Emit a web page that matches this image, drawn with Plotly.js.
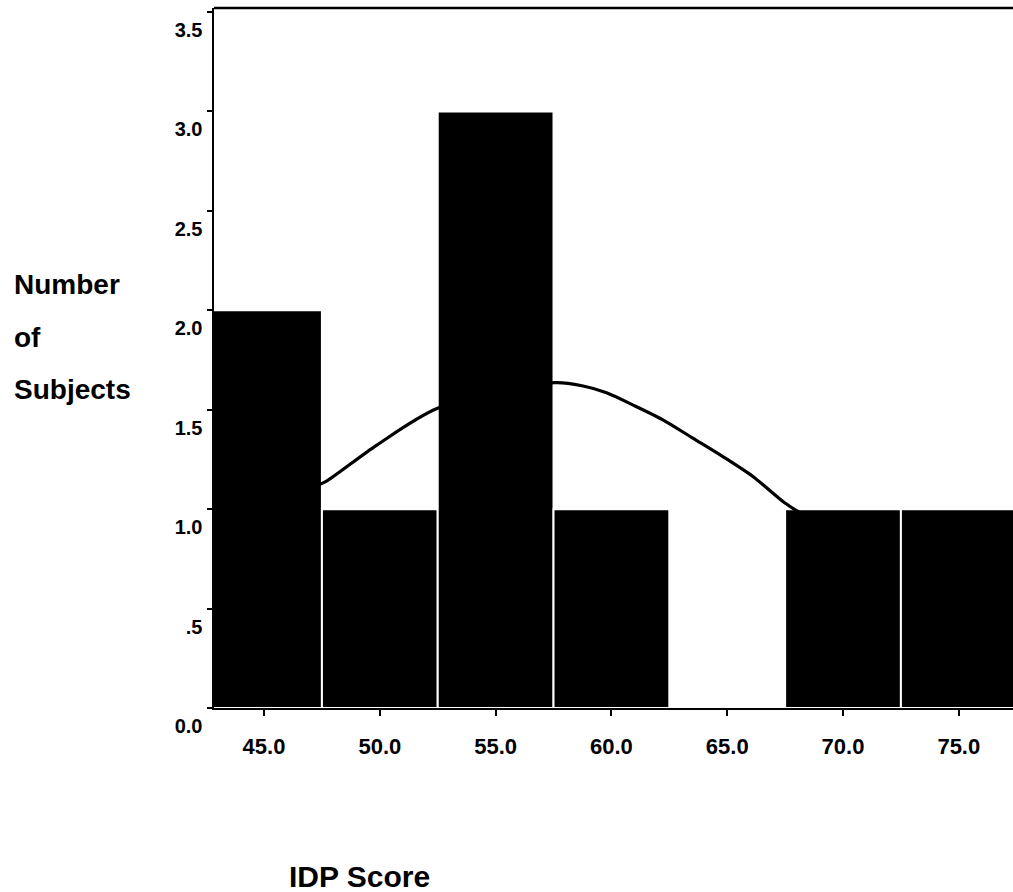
<!DOCTYPE html>
<html>
<head>
<meta charset="utf-8">
<script src="https://cdn.plot.ly/plotly-3.0.1.min.js"></script>
<style>html,body{margin:0;padding:0;background:#fff;}#chart{width:1013px;height:892px;}</style>
</head>
<body>
<div id="chart"></div>
<script>
// Histogram bins (IDP Score midpoints) and counts
var binCenters = [45, 50, 55, 60, 65, 70, 75];
var counts = [2, 1, 3, 1, 0, 1, 1];

// Fitted normal curve
var curveX = [47.3, 47.66, 49.87, 52.5, 57.56, 58.78, 59.79, 60.94, 62.24, 63.53, 64.83, 66.12, 67.42, 67.85, 69.0];
var curveY = [1.12, 1.138, 1.322, 1.507, 1.636, 1.619, 1.585, 1.523, 1.448, 1.356, 1.263, 1.163, 1.037, 1.003, 0.92];

// Axis ticks
var xTickVals = [45, 50, 55, 60, 65, 70, 75];
var xTickText = ["45.0", "50.0", "55.0", "60.0", "65.0", "70.0", "75.0"];
var yTickVals = [0, 0.5, 1, 1.5, 2, 2.5, 3, 3.5];
var yTickText = ["0.0", ".5", "1.0", "1.5", "2.0", "2.5", "3.0", "3.5"];

var tickFamily = "Liberation Sans Narrow, Liberation Sans, Arial, sans-serif";
var titleFont = {family: "Liberation Sans, Arial, sans-serif", size: 28, color: "#000", weight: "bold"};

var data = [
  {
    type: "scatter", mode: "lines",
    x: curveX, y: curveY,
    line: {color: "#000", width: 3.2, shape: "spline", smoothing: 0.8},
    hoverinfo: "skip", showlegend: false
  },
  {
    type: "bar",
    x: binCenters, y: counts,
    width: 5,
    marker: {color: "#000", line: {color: "#fff", width: 2}},
    showlegend: false
  }
];

var layout = {
  width: 1013, height: 892,
  margin: {l: 214, r: 0, t: 8, b: 184},
  paper_bgcolor: "#fff", plot_bgcolor: "#fff",
  bargap: 0,
  showlegend: false,
  xaxis: {
    range: [42.84, 77.34],
    tickvals: xTickVals, ticktext: xTickText,
    ticks: "outside", ticklen: 6, tickwidth: 2, tickcolor: "#000",
    showline: true, linecolor: "#000", linewidth: 2,
    showgrid: false, zeroline: false,
    tickfont: {family: tickFamily, size: 22, color: "#000", weight: "bold"},
    ticklabelstandoff: 12
  },
  yaxis: {
    range: [0, 3.52],
    tickvals: yTickVals, ticktext: yTickText,
    ticks: "outside", ticklen: 5, tickwidth: 2, tickcolor: "#000",
    showline: true, linecolor: "#000", linewidth: 2.5,
    showgrid: false, zeroline: false,
    tickfont: {family: tickFamily, size: 20, color: "#000", weight: "bold"},
    ticklabelshift: 18,
    ticklabelstandoff: 0,
    ticklabeloverflow: "allow"
  },
  shapes: [
    {type: "line", xref: "paper", yref: "paper", x0: 0, x1: 1, y0: 1, y1: 1, line: {color: "#000", width: 2.5}, layer: "above"}
  ],
  annotations: [
    {text: "Number", xref: "paper", yref: "paper", x: -0.2528, y: 0.6057, xanchor: "left", yanchor: "middle", showarrow: false, font: titleFont},
    {text: "of", xref: "paper", yref: "paper", x: -0.2528, y: 0.5286, xanchor: "left", yanchor: "middle", showarrow: false, font: titleFont},
    {text: "Subjects", xref: "paper", yref: "paper", x: -0.2528, y: 0.4543, xanchor: "left", yanchor: "middle", showarrow: false, font: titleFont},
    {text: "IDP Score", xref: "paper", yref: "paper", x: 0.0914, y: -0.24, xanchor: "left", yanchor: "middle", showarrow: false,
     font: {family: titleFont.family, size: 30, color: "#000", weight: "bold"}}
  ]
};

Plotly.newPlot("chart", data, layout, {staticPlot: true, displayModeBar: false});
</script>
</body>
</html>
